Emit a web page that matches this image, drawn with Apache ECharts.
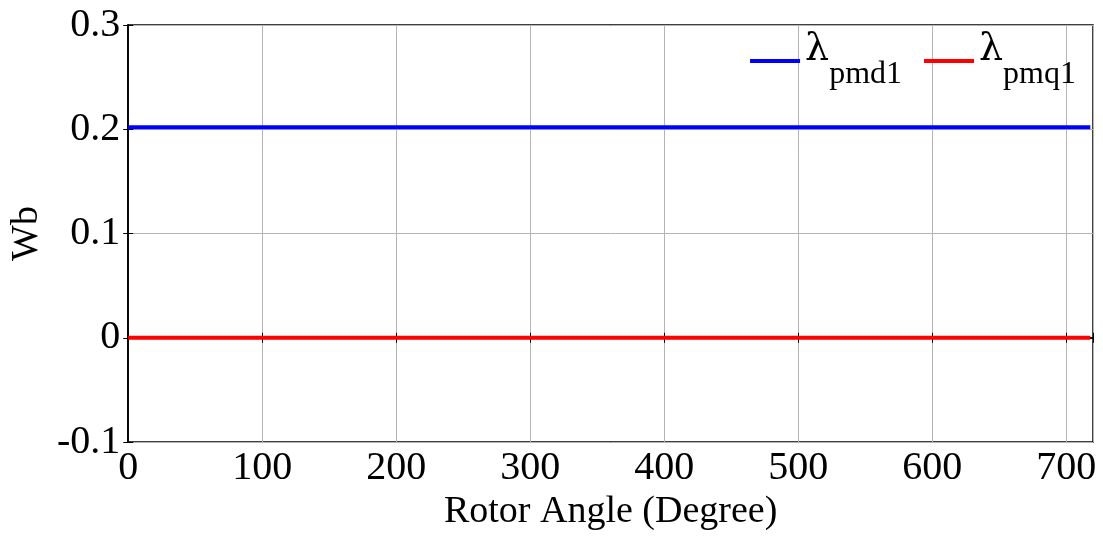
<!DOCTYPE html>
<html lang="en">
<head>
  <meta charset="UTF-8">
  <title>Flux linkage</title>
  <style>
    * { box-sizing: border-box; padding: 0; margin: 0; }
    html, body, #main { width: 100%; height: 100%; background: #fff; }
  </style>
  <script src="https://cdn.jsdelivr.net/npm/echarts@6/dist/echarts.min.js"></script>
</head>
<body>
  <div id="main"></div>
  <script>
    // values
    var angles = [0, 120, 240, 360, 480, 600, 718];
    var lambdaD = [0.202, 0.202, 0.202, 0.202, 0.202, 0.202, 0.202];
    var lambdaQ = [0, 0, 0, 0, 0, 0, 0];
    var xTicks = [0, 100, 200, 300, 400, 500, 600, 700];
    var yTicks = [-0.1, 0, 0.1, 0.2, 0.3];

    var font = '"Liberation Serif", "Times New Roman", serif';
    var myChart = echarts.init(document.getElementById('main'));

    function pairs(xs, ys) {
      return xs.map(function (x, i) { return [x, ys[i]]; });
    }

    var option = {
      animation: false,
      textStyle: { fontFamily: font, color: '#000' },
      grid: {
        left: 128, top: 25, right: 10, bottom: 93,
        show: true, borderColor: '#000', borderWidth: 1.5
      },
      legend: {
        right: 22, top: 26,
        itemWidth: 50, itemHeight: 4, itemGap: 22,
        icon: 'rect',
        data: ['pmd1', 'pmq1'],
        formatter: function (name) { return '{l|λ}{s|' + name + '}'; },
        textStyle: {
          rich: {
            l: { fontFamily: '"DejaVu Serif", serif', fontSize: 38, lineHeight: 60, verticalAlign: 'top', color: '#000' },
            s: { fontFamily: font, fontSize: 32, lineHeight: 60, verticalAlign: 'bottom', color: '#000' }
          }
        }
      },
      xAxis: [{
        type: 'value', min: 0, max: 720, interval: 100,
        name: 'Rotor Angle (Degree)', nameLocation: 'middle', nameGap: 48,
        nameTextStyle: { fontFamily: font, fontSize: 38, color: '#000' },
        axisLine: { show: true, lineStyle: { color: '#000', width: 1.5 } },
        axisTick: { show: true, inside: true, length: 5, lineStyle: { color: '#000' } },
        axisLabel: {
          fontFamily: font, fontSize: 40, color: '#000', margin: 6,
          customValues: xTicks
        },
        splitLine: { show: true, lineStyle: { color: '#b4b4b4', width: 1 } }
      }, {
        type: 'value', position: 'top', min: 0, max: 720, interval: 100,
        axisLine: { show: true, lineStyle: { color: '#000', width: 1.5 } },
        axisTick: { show: true, inside: true, length: 5, lineStyle: { color: '#000' } },
        axisLabel: { show: false },
        splitLine: { show: false }
      }],
      yAxis: [{
        type: 'value', min: -0.1, max: 0.3, interval: 0.1,
        name: 'Wb', nameLocation: 'middle', nameGap: 78,
        nameTextStyle: { fontFamily: font, fontSize: 38, color: '#000' },
        axisLine: { show: true, lineStyle: { color: '#000', width: 1.5 } },
        axisTick: { show: true, inside: true, length: 5, lineStyle: { color: '#000' } },
        axisLabel: {
          fontFamily: font, fontSize: 40, color: '#000', margin: 8,
          customValues: yTicks,
          formatter: function (v) { return String(Math.round(v * 10) / 10); }
        },
        splitLine: { show: true, lineStyle: { color: '#b4b4b4', width: 1 } }
      }, {
        type: 'value', position: 'right', min: -0.1, max: 0.3, interval: 0.1,
        axisLine: { show: true, lineStyle: { color: '#000', width: 1.5 } },
        axisTick: { show: true, inside: true, length: 5, lineStyle: { color: '#000' } },
        axisLabel: { show: false },
        splitLine: { show: false }
      }],
      series: [{
        name: 'pmd1', type: 'line', showSymbol: false,
        data: pairs(angles, lambdaD),
        itemStyle: { color: '#0000ff' },
        lineStyle: { color: '#0000ff', width: 4 }
      }, {
        name: 'pmq1', type: 'line', showSymbol: false,
        data: pairs(angles, lambdaQ),
        itemStyle: { color: '#ff0000' },
        lineStyle: { color: '#ff0000', width: 4 }
      }]
    };
    myChart.setOption(option);
    window.onresize = myChart.resize;
  </script>
</body>
</html>
